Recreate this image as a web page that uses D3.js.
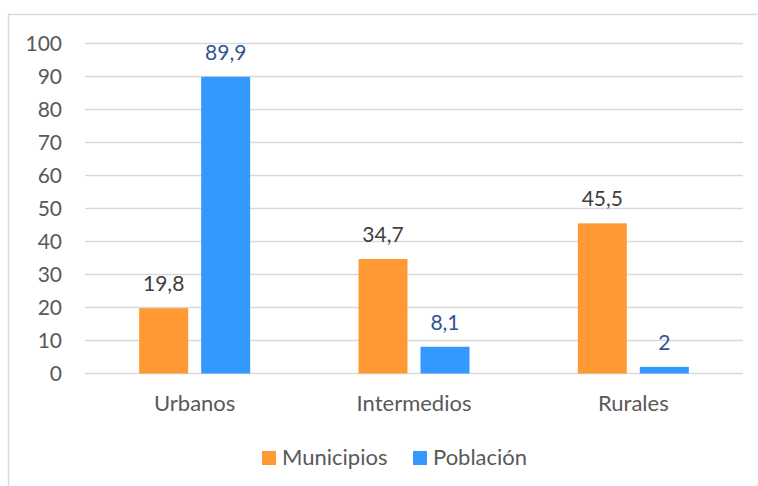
<!DOCTYPE html>
<html>
<head>
<meta charset="utf-8">
<script src="https://cdn.jsdelivr.net/npm/d3@7"></script>
<style>
  body { margin: 0; background: #fff; }
  svg { display: block; font-family: Lato, "Open Sans", sans-serif; }
</style>
</head>
<body>
<script>
'use strict';

// chart values
let categories = ["Urbanos", "Intermedios", "Rurales"];
let seriesNames = ["Municipios", "Población"];
let municipios = [19.8, 34.7, 45.5];
let poblacion = [89.9, 8.1, 2];
let yTicks = [0, 10, 20, 30, 40, 50, 60, 70, 80, 90, 100];

let colors = { "Municipios": "#FF9933", "Población": "#3399FF" };
let labelColors = { "Municipios": "#404040", "Población": "#2F5597" };

let width = 758, height = 486;

let svg = d3.select('body')
  .append('svg')
  .attr('width', width)
  .attr('height', height);

// chart frame
svg.append('rect')
  .attr('x', 8.5)
  .attr('y', 14.5)
  .attr('width', 760)
  .attr('height', 500)
  .attr('fill', 'none')
  .attr('stroke', '#D9D9D9')
  .attr('stroke-width', 1.5);

let plot = { left: 85, right: 743, top: 43.5, bottom: 373.5 };

let yScale = d3.scaleLinear()
  .domain([0, 100])
  .range([plot.bottom, plot.top]);

let x0 = d3.scaleBand()
  .domain(categories)
  .range([plot.left, plot.right]);

// the pair of bars is about 111px wide inside each category band
let groupWidth = 111;
let x1 = d3.scaleBand()
  .domain(seriesNames)
  .range([0, groupWidth])
  .paddingInner(0.21);

// gridlines
svg.append('g')
  .selectAll('line')
  .data(yTicks)
  .enter()
  .append('line')
    .attr('x1', plot.left)
    .attr('x2', plot.right)
    .attr('y1', d => yScale(d))
    .attr('y2', d => yScale(d))
    .attr('stroke', '#D9D9D9')
    .attr('stroke-width', 1.5);

// y axis labels
let yAxis = d3.axisLeft(yScale)
  .tickValues(yTicks)
  .tickSize(0)
  .tickPadding(23);
let yg = svg.append('g')
  .attr('transform', 'translate(' + plot.left + ',0)')
  .call(yAxis);
yg.select('.domain').remove();
yg.selectAll('text')
  .attr('fill', '#595959')
  .style('font-size', '21px')
  .style('font-family', 'Lato, sans-serif');

// x axis labels
let xAxis = d3.axisBottom(x0).tickSize(0).tickPadding(22);
let xg = svg.append('g')
  .attr('transform', 'translate(0,' + plot.bottom + ')')
  .call(xAxis);
xg.select('.domain').remove();
xg.selectAll('text')
  .attr('fill', '#595959')
  .style('font-size', '22px')
  .style('font-family', 'Lato, sans-serif');

// build rows for the bars
let rows = [];
categories.forEach((c, i) => {
  rows.push({ cat: c, series: "Municipios", value: municipios[i] });
  rows.push({ cat: c, series: "Población", value: poblacion[i] });
});

let groupX = d => x0(d.cat) + (x0.bandwidth() - groupWidth) / 2 + x1(d.series);

svg.append('g')
  .selectAll('rect')
  .data(rows)
  .enter()
  .append('rect')
    .attr('x', groupX)
    .attr('y', d => yScale(d.value))
    .attr('width', x1.bandwidth())
    .attr('height', d => plot.bottom - yScale(d.value))
    .attr('fill', d => colors[d.series]);

// value labels
svg.append('g')
  .selectAll('text')
  .data(rows)
  .enter()
  .append('text')
    .attr('x', d => groupX(d) + x1.bandwidth() / 2)
    .attr('y', d => yScale(d.value) - 17)
    .attr('text-anchor', 'middle')
    .attr('fill', d => labelColors[d.series])
    .style('font-size', '21px')
    .text(d => String(d.value).replace('.', ','));

// legend
let legendItems = [
  { name: "Municipios", x: 262 },
  { name: "Población", x: 413 }
];
let legend = svg.append('g');
legendItems.forEach(item => {
  legend.append('rect')
    .attr('x', item.x)
    .attr('y', 451)
    .attr('width', 14)
    .attr('height', 14)
    .attr('fill', colors[item.name]);
  legend.append('text')
    .attr('x', item.x + 20)
    .attr('y', 465)
    .attr('fill', '#595959')
    .style('font-size', '22px')
    .text(item.name);
});
</script>
</body>
</html>
